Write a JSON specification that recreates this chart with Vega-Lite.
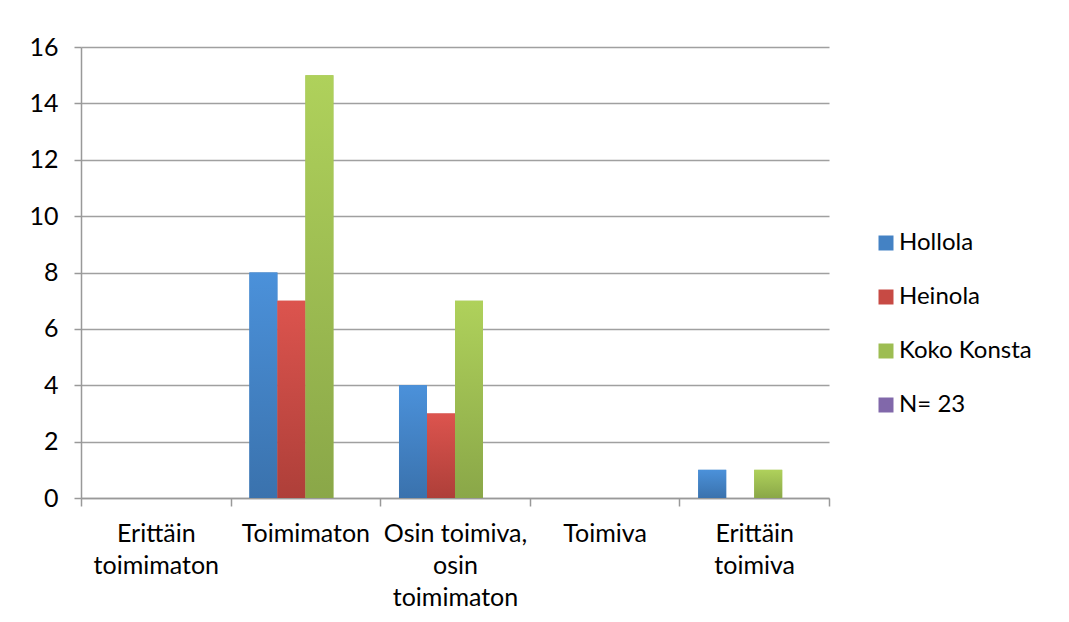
{
  "$schema": "https://vega.github.io/schema/vega-lite/v6.json",
  "autosize": "none",
  "width": 748,
  "height": 451,
  "padding": {"left": 81, "top": 47, "right": 240, "bottom": 124},
  "background": "white",
  "config": {
    "font": "Lato",
    "view": {"stroke": null},
    "axis": {"labelFont": "Lato", "labelFontSize": 25, "labelColor": "#000000", "domainColor": "#999999", "domainWidth": 1.5, "tickColor": "#999999", "tickWidth": 1.5, "gridColor": "#a0a0a0", "gridWidth": 1.5}
  },
  "data": {
    "values": [
      {"luokka": "Erittäin toimimaton", "sarja": "Hollola", "arvo": 0},
      {"luokka": "Erittäin toimimaton", "sarja": "Heinola", "arvo": 0},
      {"luokka": "Erittäin toimimaton", "sarja": "Koko Konsta", "arvo": 0},
      {"luokka": "Erittäin toimimaton", "sarja": "N= 23", "arvo": 0},
      {"luokka": "Toimimaton", "sarja": "Hollola", "arvo": 8},
      {"luokka": "Toimimaton", "sarja": "Heinola", "arvo": 7},
      {"luokka": "Toimimaton", "sarja": "Koko Konsta", "arvo": 15},
      {"luokka": "Toimimaton", "sarja": "N= 23", "arvo": 0},
      {"luokka": "Osin toimiva, osin toimimaton", "sarja": "Hollola", "arvo": 4},
      {"luokka": "Osin toimiva, osin toimimaton", "sarja": "Heinola", "arvo": 3},
      {"luokka": "Osin toimiva, osin toimimaton", "sarja": "Koko Konsta", "arvo": 7},
      {"luokka": "Osin toimiva, osin toimimaton", "sarja": "N= 23", "arvo": 0},
      {"luokka": "Toimiva", "sarja": "Hollola", "arvo": 0},
      {"luokka": "Toimiva", "sarja": "Heinola", "arvo": 0},
      {"luokka": "Toimiva", "sarja": "Koko Konsta", "arvo": 0},
      {"luokka": "Toimiva", "sarja": "N= 23", "arvo": 0},
      {"luokka": "Erittäin toimiva", "sarja": "Hollola", "arvo": 1},
      {"luokka": "Erittäin toimiva", "sarja": "Heinola", "arvo": 0},
      {"luokka": "Erittäin toimiva", "sarja": "Koko Konsta", "arvo": 1},
      {"luokka": "Erittäin toimiva", "sarja": "N= 23", "arvo": 0}
    ]
  },
  "encoding": {
    "x": {
      "field": "luokka",
      "type": "nominal",
      "sort": ["Erittäin toimimaton", "Toimimaton", "Osin toimiva, osin toimimaton", "Toimiva", "Erittäin toimiva"],
      "scale": {"domain": ["Erittäin toimimaton", "Toimimaton", "Osin toimiva, osin toimimaton", "Toimiva", "Erittäin toimiva"], "paddingInner": 0, "paddingOuter": 0},
      "axis": {
        "title": null,
        "labelAngle": 0,
        "tickBand": "extent",
        "tickSize": 8,
        "labelPadding": 15,
        "labelLineHeight": 32,
        "labelLimit": 0,
        "labelExpr": "datum.value == 'Erittäin toimimaton' ? ['Erittäin', 'toimimaton'] : datum.value == 'Osin toimiva, osin toimimaton' ? ['Osin toimiva,', 'osin', 'toimimaton'] : datum.value == 'Erittäin toimiva' ? ['Erittäin', 'toimiva'] : datum.value"
      }
    },
    "xOffset": {
      "field": "sarja",
      "type": "nominal",
      "scale": {"domain": ["Hollola", "Heinola", "Koko Konsta", "N= 23"], "paddingInner": 0, "paddingOuter": 0.671}
    },
    "y": {
      "field": "arvo",
      "type": "quantitative",
      "scale": {"domain": [0, 16], "nice": false},
      "axis": {
        "title": null,
        "values": [0, 2, 4, 6, 8, 10, 12, 14, 16],
        "tickSize": 7,
        "labelPadding": 16,
        "grid": true
      }
    }
  },
  "layer": [
    {
      "mark": {"type": "bar"},
      "encoding": {
        "color": {
          "field": "sarja",
          "type": "nominal",
          "scale": {
            "domain": ["Hollola", "Heinola", "Koko Konsta", "N= 23"],
            "range": ["#4482c4", "#c74a44", "#9dbd52", "#8168aa"]
          },
          "legend": {
            "title": null,
            "orient": "none",
            "legendX": 793,
            "legendY": 184,
            "padding": 0,
            "symbolType": "square",
            "symbolSize": 225,
            "symbolStrokeWidth": 0,
            "symbolOpacity": 1,
            "labelFont": "Lato",
            "labelFontSize": 24,
            "labelColor": "#000000",
            "labelOffset": 1,
            "rowPadding": 30,
            "labelLimit": 0
          }
        }
      }
    },
    {
      "transform": [{"filter": "datum.sarja == 'Hollola'"}],
      "mark": {"type": "bar", "fill": {"gradient": "linear", "x1": 0, "y1": 0, "x2": 0, "y2": 1, "stops": [{"offset": 0, "color": "#4b91da"}, {"offset": 1, "color": "#3a72ad"}]}}
    },
    {
      "transform": [{"filter": "datum.sarja == 'Heinola'"}],
      "mark": {"type": "bar", "fill": {"gradient": "linear", "x1": 0, "y1": 0, "x2": 0, "y2": 1, "stops": [{"offset": 0, "color": "#dc544e"}, {"offset": 1, "color": "#ae3f39"}]}}
    },
    {
      "transform": [{"filter": "datum.sarja == 'Koko Konsta'"}],
      "mark": {"type": "bar", "fill": {"gradient": "linear", "x1": 0, "y1": 0, "x2": 0, "y2": 1, "stops": [{"offset": 0, "color": "#afd15b"}, {"offset": 1, "color": "#8aa748"}]}}
    }
  ]
}
